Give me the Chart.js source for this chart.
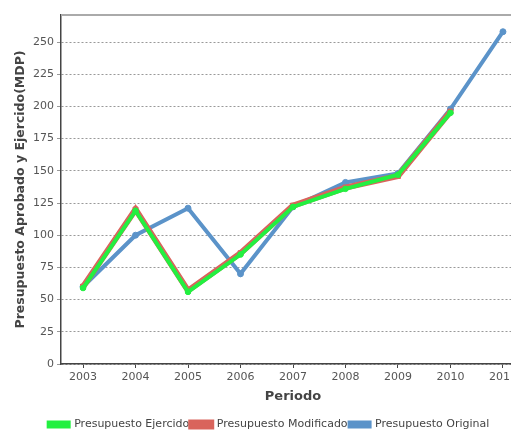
<!DOCTYPE html>
<html>
<head>
<meta charset="utf-8">
<script src="https://cdn.jsdelivr.net/npm/chart.js@4"></script>
<style>
  html, body { margin: 0; padding: 0; background: #fff; overflow: hidden; }
  #wrap { width: 540px; height: 431px; overflow: hidden; }
</style>
</head>
<body>
<div id="wrap"><canvas id="budgetChart" width="540" height="440"></canvas></div>
<script>
const years = [2003, 2004, 2005, 2006, 2007, 2008, 2009, 2010, 2011];
const ejercido = [59, 119, 56, 85, 122, 136, 147, 195];
const modificado = [60, 120, 57, 86, 123, 137, 146, 196];
const original = [60, 100, 121, 70, 122, 141, 148, 198, 258];
const yTicks = [0, 25, 50, 75, 100, 125, 150, 175, 200, 225, 250];

const toPoints = vals => vals.map((v, i) => ({ x: years[i], y: v }));

// gray line along the top of the plot
const topLine = {
  id: 'topLine',
  afterDraw(chart) {
    const { ctx, chartArea } = chart;
    ctx.save();
    ctx.strokeStyle = '#aaaaaa';
    ctx.lineWidth = 2;
    ctx.beginPath();
    ctx.moveTo(chartArea.left, chartArea.top);
    ctx.lineTo(chartArea.right + 20, chartArea.top);
    ctx.stroke();
    ctx.restore();
  }
};

const ctx = document.getElementById('budgetChart').getContext('2d');
new Chart(ctx, {
  type: 'line',
  data: {
    datasets: [{
      label: 'Presupuesto Ejercido',
      data: toPoints(ejercido),
      borderColor: '#22f040',
      backgroundColor: '#22f040',
      borderWidth: 4,
      pointRadius: 2.8,
      pointBorderWidth: 1,
      pointStyle: 'circle'
    }, {
      label: 'Presupuesto Modificado',
      data: toPoints(modificado),
      borderColor: '#d9645c',
      backgroundColor: '#d9645c',
      borderWidth: 6,
      pointRadius: 3.5,
      pointBorderWidth: 1,
      pointStyle: 'rect'
    }, {
      label: 'Presupuesto Original',
      data: toPoints(original),
      borderColor: '#5b93c9',
      backgroundColor: '#5b93c9',
      borderWidth: 4,
      pointRadius: 3,
      pointBorderWidth: 1,
      pointStyle: 'circle'
    }]
  },
  options: {
    responsive: false,
    animation: false,
    layout: { padding: { top: 15, right: 15, left: 13, bottom: 0 } },
    font: { family: 'DejaVu Sans' },
    scales: {
      x: {
        type: 'linear',
        min: 2002.58,
        max: 2011.42,
        afterBuildTicks: s => { s.ticks = years.map(v => ({ value: v })); },
        afterFit: s => { s.height = 53; },
        ticks: {
          color: '#555',
          font: { family: 'DejaVu Sans', size: 11 },
          callback: v => String(v),
          maxRotation: 0,
          autoSkip: false,
          padding: 3
        },
        grid: { drawOnChartArea: false, drawTicks: true, tickLength: 4, color: '#444' },
        border: { color: '#444', width: 1.5 },
        title: {
          display: true,
          text: 'Periodo',
          color: '#444',
          font: { family: 'DejaVu Sans', size: 13, weight: 'bold' },
          padding: { top: 2, bottom: 13 }
        }
      },
      y: {
        min: 0,
        max: 271,
        afterBuildTicks: s => { s.ticks = yTicks.map(v => ({ value: v })); },
        afterFit: s => { s.width = 48; },
        ticks: {
          color: '#555',
          font: { family: 'DejaVu Sans', size: 11 },
          padding: 3
        },
        grid: { color: '#999', tickLength: 4, lineWidth: 1 },
        border: { color: '#444', width: 1.5, dash: [2, 2] },
        title: {
          display: true,
          text: 'Presupuesto Aprobado y Ejercido(MDP)',
          color: '#444',
          font: { family: 'DejaVu Sans', size: 12.5, weight: 'bold' },
          padding: { top: 0, bottom: 2 }
        }
      }
    },
    plugins: {
      legend: {
        position: 'bottom',
        align: 'center',
        labels: {
          color: '#444',
          font: { family: 'DejaVu Sans', size: 11 },
          boxWidth: 20,
          boxHeight: 4,
          padding: 2
        }
      },
      tooltip: { enabled: false }
    }
  },
  plugins: [topLine]
});
</script>
</body>
</html>
